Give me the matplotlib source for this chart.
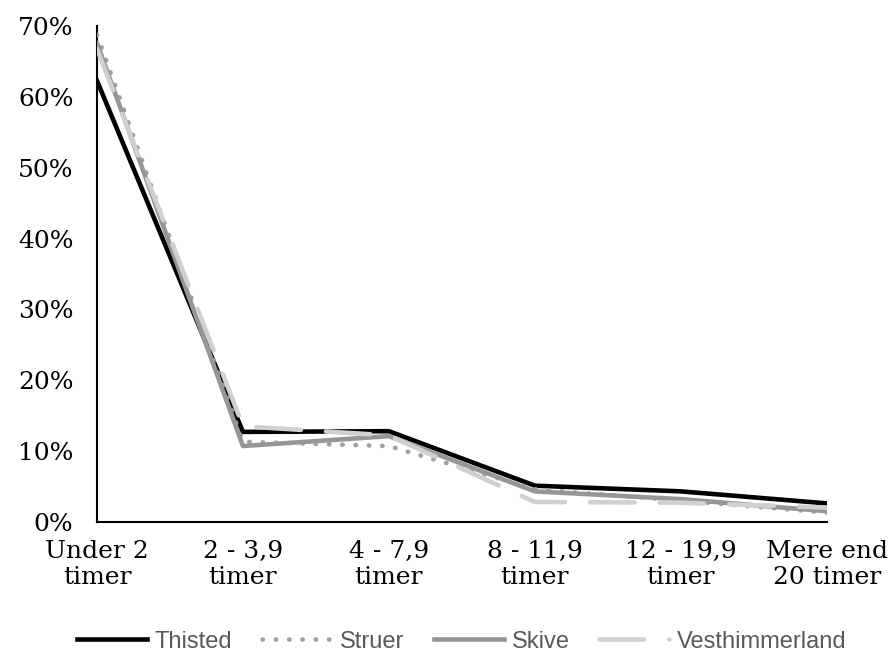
import matplotlib
matplotlib.use("Agg")
import matplotlib.pyplot as plt
from matplotlib.ticker import FuncFormatter

categories = ["Under 2\ntimer", "2 - 3,9\ntimer", "4 - 7,9\ntimer", "8 - 11,9\ntimer", "12 - 19,9\ntimer", "Mere end\n20 timer"]
thisted = [62.3, 12.7, 12.8, 5.1, 4.3, 2.6]
struer = [68.8, 11.3, 10.7, 4.6, 3.0, 1.3]
skive = [67.6, 10.7, 12.1, 4.3, 3.2, 1.5]
vesthimmerland = [66.8, 13.5, 12.2, 2.8, 2.7, 2.0]

fig = plt.figure(figsize=(8.9, 6.58), dpi=100)
ax = fig.add_axes([0.109, 0.207, 0.820, 0.753])
x = list(range(len(categories)))

lw = 3.3
ax.plot(x, thisted, color="#000000", lw=lw, label="Thisted", zorder=3)
ax.plot(x, struer, color="#a0a0a0", lw=lw, linestyle=(0, (0.1, 2.8)), dash_capstyle="round", label="Struer", zorder=4)
ax.plot(x, skive, color="#969696", lw=lw, label="Skive", zorder=5)
ax.plot(x, vesthimmerland, color="#d0d0d0", lw=lw, linestyle=(0, (9.7, 5.5)), dash_capstyle="round", label="Vesthimmerland", zorder=6)

ax.set_xlim(0, 5)
ax.set_ylim(0, 70)
ax.set_yticks(range(0, 71, 10))
ax.yaxis.set_major_formatter(FuncFormatter(lambda v, p: f"{int(v)}%"))
ax.set_xticks(x)
ax.set_xticklabels(categories, linespacing=1.15)
ax.tick_params(length=0, labelsize=18)
for lab in ax.get_xticklabels() + ax.get_yticklabels():
    lab.set_fontfamily("DejaVu Serif")
ax.tick_params(axis="y", pad=17)
ax.tick_params(axis="x", pad=13)
for s in ["top", "right"]:
    ax.spines[s].set_visible(False)
for s in ["left", "bottom"]:
    ax.spines[s].set_linewidth(1.5)
    ax.spines[s].set_color("black")

leg = fig.legend(loc="center", bbox_to_anchor=(0.519, 0.025), ncol=4, frameon=False,
                 prop={"family": "Liberation Sans", "size": 17}, handlelength=2.95,
                 columnspacing=1.25, handletextpad=0.35, labelcolor="#595959")
fig.savefig("out.png", dpi=100)
